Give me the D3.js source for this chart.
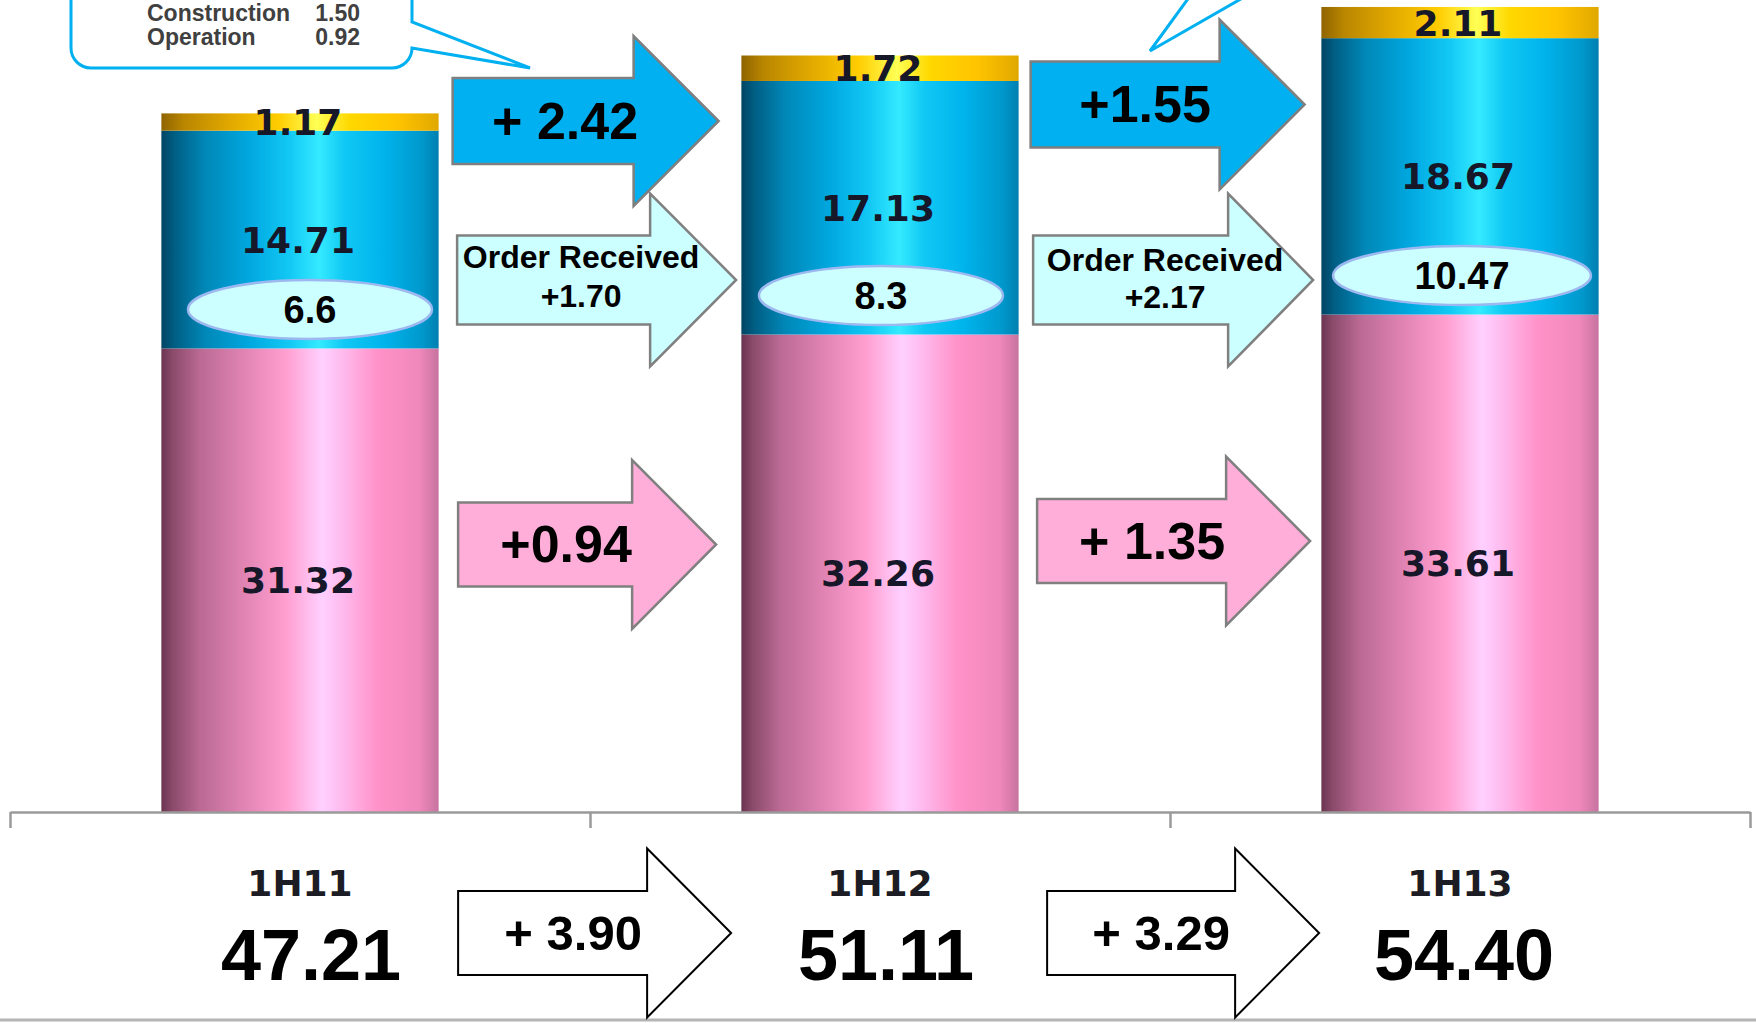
<!DOCTYPE html>
<html>
<head>
<meta charset="utf-8">
<script src="https://cdn.jsdelivr.net/npm/d3@7"></script>
<style>
  html, body { margin: 0; padding: 0; background: #fff; }
  svg { display: block; }
</style>
</head>
<body>
<svg id="chart" width="1756" height="1023"></svg>
<script>
// ---- data ----
const categories = ["1H11", "1H12", "1H13"];
const baseValues = [31.32, 32.26, 33.61];     // bottom (pink) segment
const midValues = [14.71, 17.13, 18.67];      // middle (blue) segment
const topValues = [1.17, 1.72, 2.11];         // top (yellow) segment
const ovalLabels = ["6.6", "8.3", "10.47"];   // order received within the blue segment
const totalLabels = ["47.21", "51.11", "54.40"];
const midChange = ["+ 2.42", "+1.55"];
const orderChange = ["+1.70", "+2.17"];
const baseChange = ["+0.94", "+ 1.35"];
const totalChange = ["+ 3.90", "+ 3.29"];
const calloutRows = [["Construction", "1.50"], ["Operation", "0.92"]];

// ---- setup ----
const W = 1756, H = 1023;
const svg = d3.select("#chart");
const ARIAL = "'Liberation Sans', Arial, sans-serif";
const VERD = "'DejaVu Sans', Verdana, sans-serif";

const x = d3.scaleBand().domain(categories).range([10, 1750]).padding(0);
const barW = x.bandwidth() * 0.478;
const y = d3.scaleLinear().domain([0, 54.86]).range([812, 0]);
const barLeft = c => x(c) + x.bandwidth() / 2 - barW / 2;
const barMid = c => x(c) + x.bandwidth() / 2;

// cylinder-style horizontal shading
const defs = svg.append("defs");
function grad(id, stops) {
  const g = defs.append("linearGradient").attr("id", id)
    .attr("x1", 0).attr("x2", 1).attr("y1", 0).attr("y2", 0);
  stops.forEach(([o, c]) => g.append("stop").attr("offset", o).attr("stop-color", c));
}
grad("gPink", [[0, "#6a3450"], [0.04, "#8a4a6a"], [0.14, "#bb6a94"], [0.3, "#e184b4"],
  [0.45, "#ff9fd0"], [0.58, "#ffd0ff"], [0.66, "#ffb8ec"], [0.78, "#ff92c8"], [0.93, "#f088bc"], [1, "#c7739f"]]);
grad("gBlue", [[0, "#004563"], [0.05, "#005f85"], [0.16, "#0088b8"], [0.32, "#00a8e0"],
  [0.46, "#12c8f4"], [0.57, "#34eaff"], [0.66, "#10c8f4"], [0.8, "#00b4ec"], [0.94, "#0098cc"], [1, "#007fb0"]]);
grad("gGold", [[0, "#8f6400"], [0.08, "#b98600"], [0.25, "#e2a900"], [0.42, "#ffcc00"],
  [0.56, "#ffff55"], [0.68, "#ffd800"], [0.85, "#ffc400"], [1, "#e0a800"]]);

// ---- stacked bars ----
const stacks = categories.map((c, i) => {
  const b = baseValues[i], m = midValues[i], t = topValues[i];
  return [
    { c, y0: 0, y1: b, fill: "url(#gPink)", label: b.toFixed(2) },
    { c, y0: b, y1: b + m, fill: "url(#gBlue)", label: m.toFixed(2) },
    { c, y0: b + m, y1: b + m + t, fill: "url(#gGold)", label: t.toFixed(2) }
  ];
});

const bars = svg.append("g");
stacks.forEach(segs => {
  bars.selectAll(null).data(segs).enter().append("rect")
    .attr("x", d => barLeft(d.c))
    .attr("width", barW)
    .attr("y", d => y(d.y1))
    .attr("height", d => y(d.y0) - y(d.y1))
    .attr("fill", d => d.fill);
});

// ---- axis ----
const xEdge = d3.scaleLinear().domain([0, categories.length]).range(x.range());
const axis = svg.append("g").attr("transform", `translate(0,${y(0)})`)
  .call(d3.axisBottom(xEdge).tickValues(d3.range(categories.length + 1))
    .tickSize(16).tickSizeOuter(0).tickFormat(""));
axis.select(".domain").attr("stroke", "#9a9a9a").attr("stroke-width", 2.5);
axis.selectAll(".tick line").attr("stroke", "#9a9a9a").attr("stroke-width", 2.5);

// bottom rule
svg.append("line").attr("x1", 0).attr("x2", W).attr("y1", 1020).attr("y2", 1020)
  .attr("stroke", "#b4b4b4").attr("stroke-width", 3);

// ---- segment value labels ----
const segLabels = svg.append("g").attr("font-family", VERD).attr("font-weight", "bold")
  .attr("font-size", 36).attr("fill", "#17172a").attr("text-anchor", "middle");
stacks.forEach(segs => {
  segLabels.selectAll(null).data(segs).enter().append("text")
    .attr("x", d => barMid(d.c) - 2)
    .attr("y", d => (y(d.y0) + y(d.y1)) / 2)
    .attr("dy", "0.36em")
    .text(d => d.label);
});

// ---- order-received ovals ----
const ovalShift = [10, 1, 2];
const ovals = svg.append("g");
categories.forEach((c, i) => {
  const cy = y(baseValues[i]) - 39;
  const cx = barMid(c) + ovalShift[i];
  const rx = 122 + Math.max(0, ovalLabels[i].length - 3) * 3.5;
  ovals.append("ellipse").attr("cx", cx).attr("cy", cy).attr("rx", rx).attr("ry", 29.5)
    .attr("fill", "#ccffff").attr("stroke", "#9db8f0").attr("stroke-width", 2.5);
  ovals.append("text").attr("x", cx).attr("y", cy).attr("dy", "0.36em")
    .attr("text-anchor", "middle").attr("font-family", ARIAL).attr("font-weight", "bold")
    .attr("font-size", 38).attr("fill", "#000").text(ovalLabels[i]);
});

// ---- category labels and totals ----
const totalShift = [11, 6, 4];
const cats = svg.append("g").attr("text-anchor", "middle");
cats.selectAll("text.cat").data(categories).enter().append("text").attr("class", "cat")
  .attr("x", c => barMid(c)).attr("y", 896)
  .attr("font-family", VERD).attr("font-weight", "bold").attr("font-size", 36)
  .attr("fill", "#1c1c24").text(c => c);
cats.selectAll("text.tot").data(totalLabels).enter().append("text").attr("class", "tot")
  .attr("x", (d, i) => barMid(categories[i]) + totalShift[i]).attr("y", 980)
  .attr("font-family", ARIAL).attr("font-weight", "bold").attr("font-size", 72)
  .attr("fill", "#000").text(d => d);

// ---- block arrows between bars ----
function arrowPath(x0, xh, tip, cy, bh, hh) {
  return `M${x0},${cy - bh / 2}H${xh}V${cy - hh / 2}L${tip},${cy}L${xh},${cy + hh / 2}V${cy + bh / 2}H${x0}Z`;
}
// right edge of each bar that starts a gap
const gapLeft = categories.slice(0, -1).map(c => barLeft(c) + barW);

const arrowSets = [
  { labels: orderChange, fill: "#ccffff", stroke: "#808080", sw: 2.5, cy: [280, 280], bh: 89, hh: 173,
    x0: [18.5, 14.5], xh: [211.5, 209.5], tip: [297.5, 294.5], tx: [142.5, 146.5], size: 32, twoLine: true },
  { labels: midChange, fill: "#00b0f0", stroke: "#7f7f7f", sw: 2.5, cy: [121, 104.5], bh: 86, hh: 170,
    x0: [14, 12], xh: [195, 201], tip: [280, 286], tx: [126.5, 126.5], size: 52 },
  { labels: baseChange, fill: "#ffaed9", stroke: "#808080", sw: 2.5, cy: [544.5, 541], bh: 84, hh: 169,
    x0: [19.5, 18.5], xh: [193.5, 207.5], tip: [277.5, 291.5], tx: [127.5, 133.5], size: 52 },
  { labels: totalChange, fill: "#ffffff", stroke: "#000", sw: 2, cy: [933, 933], bh: 84, hh: 169,
    x0: [19.5, 28.5], xh: [208.5, 216.5], tip: [292.5, 300.5], tx: [134.5, 142.5], size: 49 }
];

const arrows = svg.append("g");
arrowSets.forEach(s => {
  gapLeft.forEach((gl, i) => {
    arrows.append("path")
      .attr("d", arrowPath(gl + s.x0[i], gl + s.xh[i], gl + s.tip[i], s.cy[i], s.bh, s.hh))
      .attr("fill", s.fill).attr("stroke", s.stroke).attr("stroke-width", s.sw)
      .attr("stroke-linejoin", "miter");
    const t = arrows.append("text").attr("text-anchor", "middle")
      .attr("font-family", ARIAL).attr("font-weight", "bold").attr("font-size", s.size)
      .attr("fill", "#000");
    if (s.twoLine) {
      t.append("tspan").attr("x", gl + s.tx[i]).attr("y", s.cy[i] - 24 + i * 3).attr("dy", "0.36em").text("Order Received");
      t.append("tspan").attr("x", gl + s.tx[i]).attr("y", s.cy[i] + 15 + i * 1).attr("dy", "0.36em").text(s.labels[i]);
    } else {
      t.attr("x", gl + s.tx[i]).attr("y", s.cy[i] - 1).attr("dy", "0.36em").text(s.labels[i]);
    }
  });
});

// ---- callouts ----
const call = svg.append("g");
call.append("path")
  .attr("d", "M71,-30V48A20,20 0 0 0 91,68H392A20,20 0 0 0 412,48L530,68L412,22V-30Z")
  .attr("fill", "#fff").attr("stroke", "#00b0f0").attr("stroke-width", 3)
  .attr("stroke-linejoin", "miter");
calloutRows.forEach((r, i) => {
  const by = 21 + i * 24;
  call.append("text").attr("x", 147).attr("y", by).attr("font-family", ARIAL)
    .attr("font-weight", "bold").attr("font-size", 23).attr("fill", "#404040").text(r[0]);
  call.append("text").attr("x", 360).attr("y", by).attr("text-anchor", "end").attr("font-family", ARIAL)
    .attr("font-weight", "bold").attr("font-size", 23).attr("fill", "#404040").text(r[1]);
});
// pointer of the callout above the second gap
call.append("path").attr("d", "M1190,-4L1150,51L1246,-4Z")
  .attr("fill", "#fff").attr("stroke", "#00b0f0").attr("stroke-width", 3);
</script>
</body>
</html>
